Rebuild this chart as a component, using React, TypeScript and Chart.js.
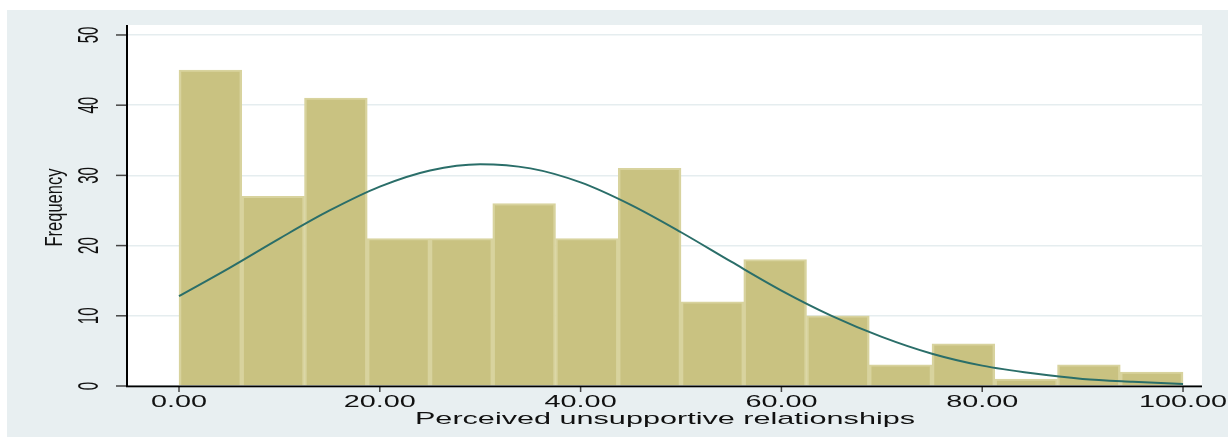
import React, { useEffect, useRef } from "react";
import { Chart, registerables } from "chart.js";

Chart.register(...registerables);

// Histogram bins
const BIN_START = 0;
const BIN_WIDTH = 6.25;
const COUNTS = [45, 27, 41, 21, 21, 26, 21, 31, 12, 18, 10, 3, 6, 1, 3, 2];

// Fitted normal curve, sampled every 5 units
const CURVE_X = [0, 5, 10, 15, 20, 25, 30, 35, 40, 45, 50, 55, 60, 65, 70, 75, 80, 85, 90, 95, 100];
const CURVE_Y = [12.8, 16.8, 21.0, 25.0, 28.4, 30.7, 31.6, 31.0, 29.0, 25.8, 21.9, 17.7, 13.6, 10.0, 7.0, 4.6, 2.9, 1.8, 1.0, 0.6, 0.3];

// Axes
const X_TICKS = [0, 20, 40, 60, 80, 100];
const X_TICK_LABELS = ["0.00", "20.00", "40.00", "60.00", "80.00", "100.00"];
const Y_TICKS = [0, 10, 20, 30, 40, 50];
const X_TITLE = "Perceived unsupportive relationships";
const Y_TITLE = "Frequency";

const W = 1228;
const H = 437;
const FONT = '"Liberation Sans", Arial, Helvetica, sans-serif';
const PANEL_BG = "#e8eff1";
const BAR_FILL = "#c9c281";
const BAR_EDGE = "#d8d39e";
const CURVE_COLOR = "#2a6e69";
const GRID_COLOR = "#e5edef";

// Draws text stretched horizontally by sx, optionally rotated to read upward.
function drawText(
  ctx: CanvasRenderingContext2D,
  text: string,
  x: number,
  y: number,
  size: number,
  sx: number,
  upright: boolean
) {
  ctx.save();
  ctx.translate(x, y);
  ctx.scale(sx, 1);
  if (!upright) ctx.rotate(-Math.PI / 2);
  ctx.font = `${size}px ${FONT}`;
  ctx.fillStyle = "#111111";
  ctx.textAlign = "center";
  ctx.textBaseline = "alphabetic";
  ctx.fillText(text, 0, 0);
  ctx.restore();
}

const framePlugin = {
  id: "stataFrame",
  beforeDraw(chart: any) {
    const { ctx, chartArea: a } = chart;
    ctx.save();
    ctx.fillStyle = "#ffffff";
    ctx.fillRect(0, 0, chart.width, chart.height);
    ctx.fillStyle = PANEL_BG;
    ctx.fillRect(7, 10, chart.width - 7, chart.height - 10);
    ctx.fillStyle = "#ffffff";
    ctx.fillRect(a.left, a.top, a.right - a.left, a.bottom - a.top);
    ctx.restore();
  },
  afterDraw(chart: any) {
    const { ctx, chartArea: a } = chart;
    const xs = chart.scales.x;
    const ys = chart.scales.y;
    ctx.save();

    // y axis ticks and labels
    ctx.strokeStyle = "#444444";
    ctx.lineWidth = 1.5;
    Y_TICKS.forEach((v) => {
      const py = ys.getPixelForValue(v);
      ctx.beginPath();
      ctx.moveTo(116, py);
      ctx.lineTo(a.left, py);
      ctx.stroke();
      drawText(ctx, String(v), 98, py, 15, 2.0, false);
    });

    // x axis ticks and labels
    X_TICKS.forEach((v, i) => {
      const px = xs.getPixelForValue(v);
      ctx.beginPath();
      ctx.moveTo(px, a.bottom);
      ctx.lineTo(px, a.bottom + 6);
      ctx.stroke();
      drawText(ctx, X_TICK_LABELS[i], px, 407, 16, 1.8, true);
    });

    // axis lines
    ctx.fillStyle = "#000000";
    ctx.fillRect(a.left - 2, a.top, 2, a.bottom - a.top + 1);
    ctx.fillRect(a.left - 2, a.bottom - 0.5, a.right - a.left + 2, 1.8);

    // titles
    drawText(ctx, X_TITLE, (a.left + a.right) / 2, 424, 17, 1.8, true);
    drawText(ctx, Y_TITLE, 62, (a.top + a.bottom) / 2 + 2, 16.5, 1.4, false);

    ctx.restore();
  },
};

export default function App() {
  const canvasRef = useRef<HTMLCanvasElement | null>(null);

  useEffect(() => {
    const canvas = canvasRef.current;
    if (!canvas) return;

    const bars = COUNTS.map((c, i) => ({ x: BIN_START + (i + 0.5) * BIN_WIDTH, y: c }));
    const curve = CURVE_X.map((x, i) => ({ x, y: CURVE_Y[i] }));

    const chart = new Chart(canvas, {
      type: "bar",
      data: {
        datasets: [
          {
            type: "line",
            data: curve,
            borderColor: CURVE_COLOR,
            borderWidth: 2,
            pointRadius: 0,
            cubicInterpolationMode: "monotone",
            fill: false,
            order: 0,
          } as any,
          {
            type: "bar",
            data: bars,
            backgroundColor: BAR_FILL,
            borderColor: BAR_EDGE,
            borderWidth: { left: 2.5, right: 2.5, top: 2, bottom: 0 },
            borderSkipped: "bottom",
            barPercentage: 1,
            categoryPercentage: 1,
            order: 1,
          } as any,
        ],
      },
      options: {
        responsive: false,
        animation: false,
        devicePixelRatio: 1,
        layout: { padding: { left: 128, right: 26, top: 25, bottom: 51 } },
        plugins: {
          legend: { display: false },
          tooltip: { enabled: false },
        },
        scales: {
          x: {
            type: "linear",
            min: -5.08,
            max: 101.89,
            offset: false,
            display: false,
          },
          y: {
            type: "linear",
            min: 0,
            max: 51.42,
            ticks: { display: false, stepSize: 10, includeBounds: false },
            grid: { color: GRID_COLOR, lineWidth: 1.5, drawTicks: false },
            border: { display: false },
          },
        },
      },
      plugins: [framePlugin],
    });

    return () => chart.destroy();
  }, []);

  return (
    <div
      style={{
        position: "fixed",
        left: 0,
        top: 0,
        width: W,
        height: H,
        background: "#ffffff",
      }}
    >
      <canvas ref={canvasRef} width={W} height={H} style={{ display: "block" }} />
    </div>
  );
}
